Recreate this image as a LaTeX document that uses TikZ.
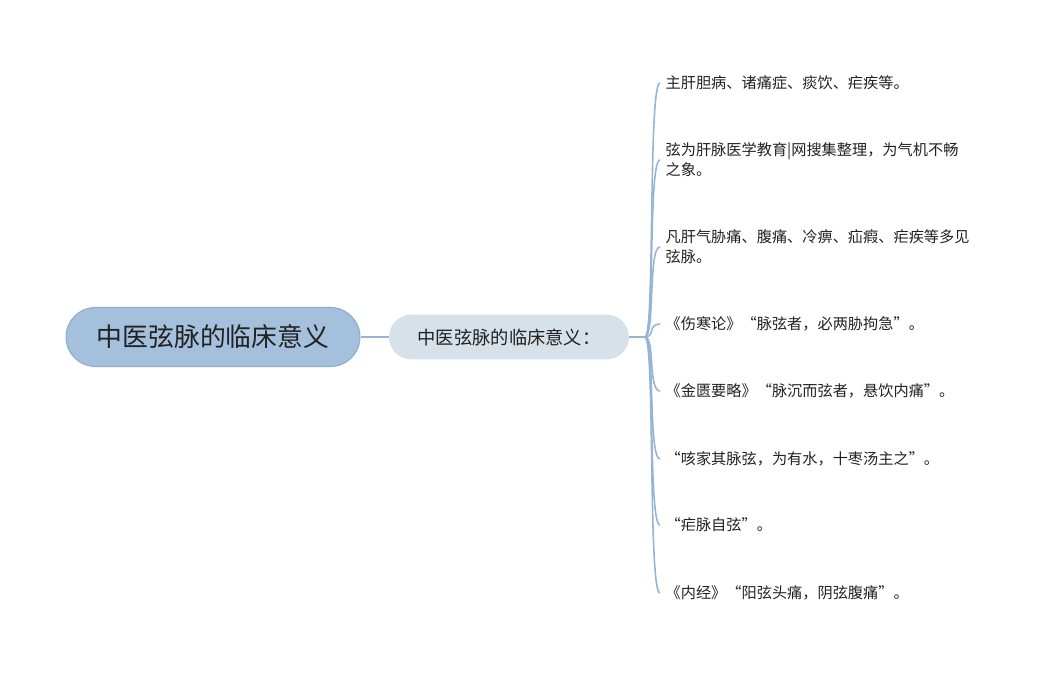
\documentclass[tikz,border=0pt]{standalone}
\usepackage{fontspec}
\setmainfont{Noto Sans CJK SC}
\usetikzlibrary{positioning}

\definecolor{rootfill}{RGB}{164,192,220}
\definecolor{rootline}{RGB}{140,172,205}
\definecolor{subfill}{RGB}{214,225,234}
\definecolor{branch}{RGB}{150,181,212}
\definecolor{ink}{RGB}{34,34,34}

\begin{document}
\begin{tikzpicture}[x=0.02cm,y=-0.02cm,
    rootbox/.style={rectangle,fill=rootfill,draw=rootline,line width=.6pt,
      minimum height=1.18cm,minimum width=5.88cm,rounded corners=.59cm,
      text=ink,font=\fontsize{14.7}{17}\selectfont},
    subbox/.style={rectangle,fill=subfill,draw=none,
      minimum height=.9cm,minimum width=4.8cm,rounded corners=.45cm,
      text=ink,font=\fontsize{10.4}{13}\selectfont},
    leaf/.style={anchor=west,inner xsep=3pt,inner ysep=0pt,align=left,
      text=ink,font=\fontsize{8.65}{11.3}\selectfont},
    link/.style={draw=branch,line width=.9pt}]
  \useasboundingbox (0,0) rectangle (1042,675);

  % main topic and its one sub topic
  \node[rootbox] (root) at (213,337) {中医弦脉的临床意义};
  \node[subbox] (sub) at (509,337) {中医弦脉的临床意义：};
  \coordinate (hub) at (645,337);

  % leaves
  \node[leaf] (l1) at (660,83) {主肝胆病、诸痛症、痰饮、疟疾等。};
  \node[leaf] (l2) at (660,160) {弦为肝脉医学教育|网搜集整理，为气机不畅\\之象。};
  \node[leaf] (l3) at (660,247) {凡肝气胁痛、腹痛、冷痹、疝瘕、疟疾等多见\\弦脉。};
  \node[leaf] (l4) at (660,324) {《伤寒论》“脉弦者，必两胁拘急”。};
  \node[leaf] (l5) at (660,391) {《金匮要略》“脉沉而弦者，悬饮内痛”。};
  \node[leaf] (l6) at (660,459) {“咳家其脉弦，为有水，十枣汤主之”。};
  \node[leaf] (l7) at (660,525) {“疟脉自弦”。};
  \node[leaf] (l8) at (660,593) {《内经》“阳弦头痛，阴弦腹痛”。};

  % connectors
  \draw[link] (root) -- (sub);
  \draw[link] (sub) -- (hub);
  \foreach \n in {l1,l2,l3,l4,l5,l6,l7,l8}
    \draw[link] (hub) .. controls +(10,0) and +(-12,0) .. (\n.west);
\end{tikzpicture}
\end{document}
